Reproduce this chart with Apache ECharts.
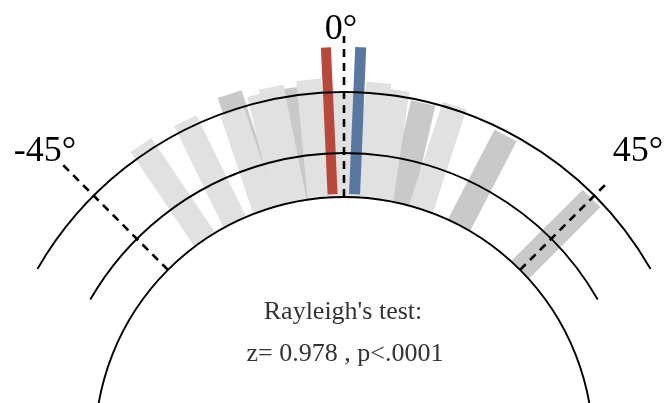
<!DOCTYPE html>
<html><head><meta charset="utf-8">
<script src="https://cdn.jsdelivr.net/npm/echarts@6/dist/echarts.min.js"></script>
<style>html,body{margin:0;padding:0;background:#fff}#c{width:666px;height:403px}</style>
</head><body><div id="c"></div>
<script>
// ---- data (radius units on the polar radius axis; angles in degrees, 0 = top, clockwise positive)
const baseRadius = 249;
const ringRadii = [249, 293, 354];
const ringHalfSpans = [180, 60, 60];
const lightAngles  = [-34, -26, -18.5, -13.5, -11.5, -5.5, 0, 5.5, 8.5, 18];
const lightLengths = [363, 362, 352, 362, 366, 368, 352, 365, 360, 358];
const darkAngles   = [-18, -8, 13, 27.5, 45];
const darkLengths  = [370, 362, 352, 350, 350];
const meanAngles   = [-2.6, 2.4];
const meanStart    = 252;
const meanEnd      = 399;
const guideAngles  = [-45, 0, 45];
const guideEnds    = [398, 410, 373];
const guideLabels  = ['-45°', '0°', '45°'];
const statLines    = ["Rayleigh's test:", "z= 0.978 , p<.0001"];

function barRenderer(width, color, startR) {
  return function (params, api) {
    const r1 = api.value(0), a = api.value(1);
    const p0 = api.coord([startR, a]), p1 = api.coord([r1, a]);
    const dx = p1[0] - p0[0], dy = p1[1] - p0[1];
    const L = Math.hypot(dx, dy) || 1;
    const nx = -dy / L * width / 2, ny = dx / L * width / 2;
    return {
      type: 'polygon',
      shape: { points: [[p0[0] + nx, p0[1] + ny], [p1[0] + nx, p1[1] + ny], [p1[0] - nx, p1[1] - ny], [p0[0] - nx, p0[1] - ny]] },
      style: { fill: color }
    };
  };
}
function barSeries(angles, lengths, width, color, startR) {
  return {
    type: 'custom', coordinateSystem: 'polar', silent: true,
    dimensions: ['radius', 'angle'], encode: { radius: 0, angle: 1 },
    data: angles.map((a, i) => [lengths[i], a]),
    renderItem: barRenderer(width, color, startR)
  };
}

const chart = echarts.init(document.getElementById('c'), null, { renderer: 'canvas' });
chart.setOption({
  animation: false,
  backgroundColor: '#ffffff',
  polar: { center: [344, 446], radius: 430 },
  radiusAxis: { type: 'value', min: 0, max: 430, show: false },
  angleAxis: { type: 'value', min: -180, max: 180, startAngle: 270, clockwise: true, show: false },
  series: [
    barSeries(darkAngles, darkLengths, 25, '#c9c9c9', baseRadius),
    barSeries(lightAngles, lightLengths, 25, '#e1e1e1', baseRadius),
    barSeries([meanAngles[0]], [meanEnd], 10, '#b8483b', meanStart),
    barSeries([meanAngles[1]], [meanEnd], 11, '#5a77a0', meanStart),
    {
      type: 'custom', coordinateSystem: 'polar', silent: true,
      dimensions: ['radius', 'angle'], encode: { radius: 0, angle: 1 },
      data: ringRadii.map((r, i) => [r, ringHalfSpans[i]]),
      renderItem: function (params, api) {
        const cs = params.coordSys;
        const half = api.value(1);
        const pA = api.coord([api.value(0), -half]);
        const pB = api.coord([api.value(0), half]);
        const r = Math.hypot(pA[0] - cs.cx, pA[1] - cs.cy);
        let a0 = Math.atan2(pA[1] - cs.cy, pA[0] - cs.cx);
        let a1 = Math.atan2(pB[1] - cs.cy, pB[0] - cs.cx);
        if (half >= 180) { a0 = 0; a1 = Math.PI * 2; }
        else if (a1 < a0) { a1 += Math.PI * 2; }
        return { type: 'arc', shape: { cx: cs.cx, cy: cs.cy, r: r, startAngle: a0, endAngle: a1, clockwise: true },
          style: { fill: null, stroke: '#000', lineWidth: 1.9 } };
      }
    },
    {
      type: 'custom', coordinateSystem: 'polar', silent: true,
      dimensions: ['radius', 'angle'], encode: { radius: 0, angle: 1 },
      data: guideAngles.map((a, i) => [guideEnds[i], a]),
      renderItem: function (params, api) {
        const a = api.value(1);
        const p0 = api.coord([baseRadius, a]), p1 = api.coord([api.value(0), a]);
        return { type: 'line', shape: { x1: p0[0], y1: p0[1], x2: p1[0], y2: p1[1] },
          style: { stroke: '#000', lineWidth: 2.6, lineDash: [8, 6] } };
      }
    }
  ],
  graphic: [
    { type: 'text', x: 45, y: 151.5, style: { text: guideLabels[0], font: '36px "Liberation Serif"', fill: '#000', textAlign: 'center', textVerticalAlign: 'middle' } },
    { type: 'text', x: 341, y: 29.5, style: { text: guideLabels[1], font: '36px "Liberation Serif"', fill: '#000', textAlign: 'center', textVerticalAlign: 'middle' } },
    { type: 'text', x: 638, y: 152, style: { text: guideLabels[2], font: '36px "Liberation Serif"', fill: '#000', textAlign: 'center', textVerticalAlign: 'middle' } },
    { type: 'text', x: 343, y: 312, style: { text: statLines[0], font: '26px "Liberation Serif"', fill: '#333', textAlign: 'center', textVerticalAlign: 'middle' } },
    { type: 'text', x: 345, y: 354, style: { text: statLines[1], font: '26px "Liberation Serif"', fill: '#333', textAlign: 'center', textVerticalAlign: 'middle' } }
  ]
});
</script></body></html>
